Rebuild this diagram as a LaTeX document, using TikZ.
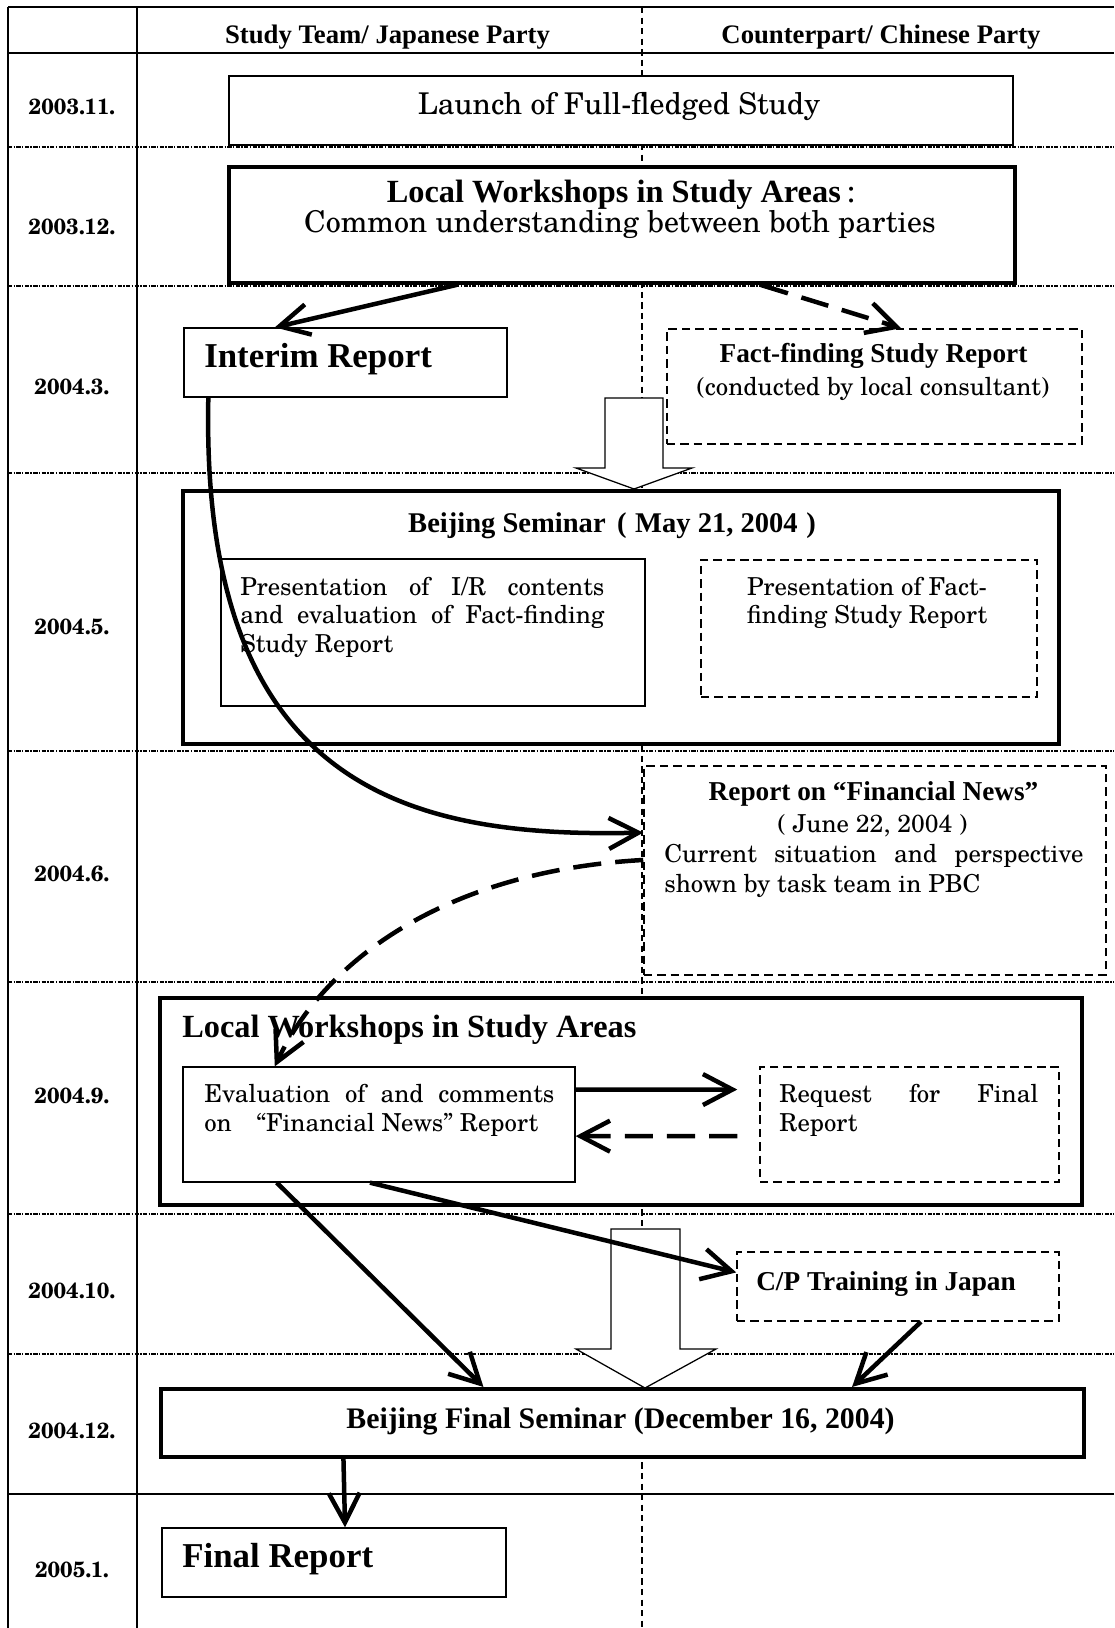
\documentclass[tikz,border=0pt]{standalone}
\usepackage{fontspec}
\setmainfont{Liberation Serif}
\newfontfamily\schola{texgyreschola}[Extension=.otf,UprightFont=*-regular,BoldFont=*-bold,ItalicFont=*-italic,BoldItalicFont=*-bolditalic]
\usetikzlibrary{calc,arrows.meta}
\newcommand\fHead{\fontsize{19pt}{22pt}\selectfont\bfseries}
\newcommand\fDate{\schola\fontsize{15.6pt}{18pt}\selectfont\bfseries}
\newcommand\fBig{\schola\fontsize{21.3pt}{25pt}\selectfont}
\newcommand\fMidB{\fontsize{19.4pt}{22pt}\selectfont\bfseries}
\newcommand\fTitle{\fontsize{23pt}{27pt}\selectfont\bfseries}
\newcommand\fHuge{\fontsize{24.8pt}{29pt}\selectfont\bfseries}
\newcommand\fSm{\schola\fontsize{17.6pt}{20pt}\selectfont}
\tikzset{
  frameline/.style={line width=1.4pt},
  rowline/.style={line width=0.8pt, dash pattern=on 3pt off 1pt on 1pt off 1pt},
  divline/.style={line width=1pt, dash pattern=on 4.5pt off 3pt},
  boxthin/.style={draw, fill=white, line width=0.9pt, inner sep=0pt},
  boxthick/.style={draw, fill=white, line width=2.9pt, inner sep=0pt},
  boxdash/.style={draw, fill=white, line width=1.1pt, dash pattern=on 6pt off 3.5pt, inner sep=0pt},
  sz/.style 2 args={minimum width=#1*0.025cm, minimum height=#2*0.025cm},
  conn/.style={line width=3.2pt, -{Straight Barb[length=21pt,width=22pt]}},
  dconn/.style={conn, dash pattern=on 20pt off 10pt},
  hollow/.style={draw, fill=white, line width=0.9pt, line join=miter},
  txt/.style={inner sep=0pt, anchor=base},
  txtl/.style={inner sep=0pt, anchor=base west},
}
\begin{document}
\begin{tikzpicture}[x=0.025cm, y=-0.025cm]
\useasboundingbox (0,0) rectangle (1114,1628);
\fill[white] (0,0) rectangle (1114,1628);

% grid
\foreach \yy in {147,286,473,751,982,1214,1354}
  \draw[rowline] (8,\yy) -- (1114,\yy);
\draw[divline] (642,7) -- (642,1628);
\draw[frameline] (8,7) -- (1114,7);
\draw[frameline] (8,53) -- (1114,53);
\draw[frameline] (8,1494) -- (1114,1494);
\draw[frameline] (8,7) -- (8,1628);
\draw[frameline] (137,7) -- (137,1628);

% headers
\node[txt] (hjp) at (387.5,44) {\fHead Study Team/ Japanese Party};
\node[txt] (hcn) at (881,44) {\fHead Counterpart/ Chinese Party};

% dates
\node[txt] (d1) at (72,115) {\fDate 2003.11.};
\node[txt] (d2) at (72,235) {\fDate 2003.12.};
\node[txt] (d3) at (72,394) {\fDate 2004.3.};
\node[txt] (d4) at (72,634) {\fDate 2004.5.};
\node[txt] (d5) at (72,881) {\fDate 2004.6.};
\node[txt] (d6) at (72,1103) {\fDate 2004.9.};
\node[txt] (d7) at (72,1298) {\fDate 2004.10.};
\node[txt] (d8) at (72,1438) {\fDate 2004.12.};
\node[txt] (d9) at (72,1577) {\fDate 2005.1.};

% boxes
\node[boxthin, sz={784}{69}] (launch) at (621,110.5) {};
\node[boxthick, sz={786}{116}] (ws1) at (622,225) {};
\node[boxthin, sz={323}{69}] (interim) at (345.5,362.5) {};
\node[boxdash, sz={415}{115}] (fact) at (874.5,386.5) {};
\node[boxthick, sz={876}{253}] (bs) at (621,617.5) {};
\node[boxthin, sz={424}{147}] (bsL) at (433,632.5) {};
\node[boxdash, sz={336}{137}] (bsR) at (869,628.5) {};
\node[boxdash, sz={462}{209}] (fn) at (875,870.5) {};
\node[boxthick, sz={922}{207}] (ws2) at (621,1101.5) {};
\node[boxthin, sz={392}{115}] (eval) at (379,1124.5) {};
\node[boxdash, sz={299}{115}] (req) at (909.5,1124.5) {};
\node[boxdash, sz={322}{69}] (cp) at (898,1286.5) {};
\node[boxthick, sz={923}{68}] (bfs) at (622.5,1423) {};
\node[boxthin, sz={344}{69}] (final) at (334,1562.5) {};

% texts
\node[txt] (tlaunch) at (619,115) {\fBig Launch of Full-fledged Study};
\node[txt] (tws1a) at (621,203) {\fTitle Local Workshops in Study Areas{\schola\mdseries\,:}};
\node[txt] (tws1b) at (620,233) {\fBig Common understanding between both parties};
\node[txtl] (tinterim) at (204,367) {\fHuge Interim Report};
\node[txt] (tfact1) at (873.5,363) {\fMidB Fact-finding Study Report};
\node[txt] (tfact2) at (873,395) {\fSm (conducted by local consultant)};
\node[txt] (tbs) at (612,532) {\fontsize{20.3pt}{24pt}\selectfont\bfseries Beijing Seminar\hspace{0.4em}(\hspace{0.3em}May 21, 2004\hspace{0.3em})};
\node[txtl] (tbsL1) at (240,595) {\fSm\makebox[9.1cm][s]{Presentation of I/R contents}};
\node[txtl] (tbsL2) at (240,623) {\fSm\makebox[9.1cm][s]{and evaluation of Fact-finding}};
\node[txtl] (tbsL3) at (240,652) {\fSm Study Report};
\node[txt] (tbsR1) at (867,595) {\fSm Presentation of Fact-};
\node[txt] (tbsR2) at (867,623) {\fSm finding Study Report};
\node[txt] (tfn1) at (873.5,800) {\fMidB Report on “Financial News”};
\node[txt] (tfn2) at (872.5,832) {\fSm ( June 22, 2004 )};
\node[txtl] (tfn3) at (664,862) {\fSm\makebox[10.475cm][s]{Current situation and perspective}};
\node[txtl] (tfn4) at (664,892) {\fSm shown by task team in PBC};
\node[txtl] (tws2) at (182,1037) {\fTitle Local Workshops in Study Areas};
\node[txtl] (teval1) at (204,1102) {\fSm\makebox[8.75cm][s]{Evaluation of and comments}};
\node[txtl] (teval2) at (204,1131) {\fSm on\quad “Financial News” Report};
\node[txtl] (treq1) at (779,1102) {\fSm\makebox[6.475cm][s]{Request for Final}};
\node[txtl] (treq2) at (779,1131) {\fSm Report};
\node[txtl] (tcp) at (756,1290) {\fMidB C/P Training in Japan};
\node[txt] (tbfs) at (620.5,1428) {\fontsize{21.2pt}{25pt}\selectfont\bfseries Beijing Final Seminar (December 16, 2004)};
\node[txtl] (tfinal) at (182,1567) {\fHuge Final Report};

% hollow block arrows
\draw[hollow] (605,398) -- (663,398) -- (663,468) -- (692,468) -- (634,489) -- (576,468) -- (605,468) -- cycle;
\draw[hollow] (611,1229) -- (680,1229) -- (680,1349) -- (716,1349) -- (645,1388) -- (576,1349) -- (611,1349) -- cycle;

% connectors
\draw[conn] ($(ws1.south west)!0.29!(ws1.south east)$) -- ($(interim.north west)!0.282!(interim.north east)$);
\draw[dconn] ($(ws1.south west)!0.676!(ws1.south east)$) -- ($(fact.north west)!0.564!(fact.north east)$);
\draw[conn] ($(interim.south west)!0.077!(interim.south east)$) .. controls (200,790) and (410,838) .. ($(fn.north west)!0.32!(fn.south west)$);
\draw[dconn] ($(fn.north west)!0.45!(fn.south west)$) .. controls (460,870) and (330,950) .. ($(eval.north west)!0.235!(eval.north east)$);
\draw[conn, shorten >=15.6pt] ($(eval.north east)!0.2!(eval.south east)$) -- ($(req.north west)!0.2!(req.south west)$);
\draw[dconn, shorten <=15.6pt] ($(req.north west)!0.6!(req.south west)$) -- ($(eval.north east)!0.6!(eval.south east)$);
\draw[conn] ($(eval.south west)!0.24!(eval.south east)$) -- ($(bfs.north west)!0.35!(bfs.north east)$);
\draw[conn] ($(eval.south west)!0.477!(eval.south east)$) -- ($(cp.north west)!0.3!(cp.south west)$);
\draw[conn] ($(cp.south west)!0.571!(cp.south east)$) -- ($(bfs.north west)!0.7476!(bfs.north east)$);
\draw[conn] ($(bfs.south west)!0.199!(bfs.south east)$) -- ($(final.north west)!0.532!(final.north east)$);
\end{tikzpicture}
\end{document}
